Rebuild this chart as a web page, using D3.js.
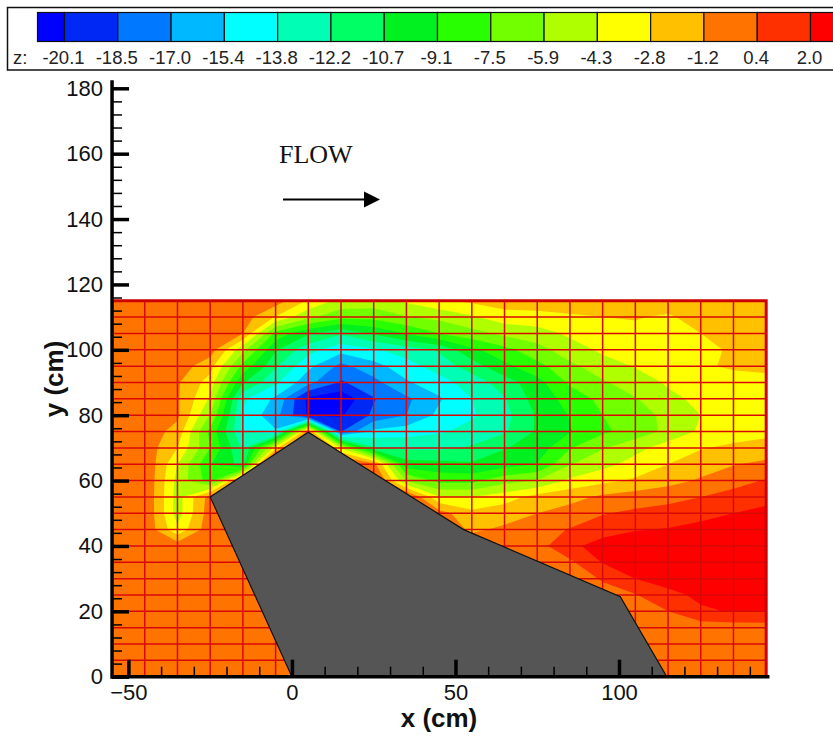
<!DOCTYPE html>
<html>
<head>
<meta charset="utf-8">
<script src="https://cdn.jsdelivr.net/npm/d3@7"></script>
<style>
  html, body { margin: 0; padding: 0; background: #fff; overflow: hidden; }
  svg { display: block; }
</style>
</head>
<body>
<div id="chart"></div>
<script>
// DATA ***********************************************
var xNodes = [-55, -45, -35, -25, -15, -5, 5, 15, 25, 35, 45, 55, 65, 75, 85, 95, 105, 115, 125, 135, 145];
var yNodes = [115, 110, 105, 100, 95, 90, 85, 80, 75, 70, 65, 60, 55, 50, 45, 40, 35, 30, 25, 20, 15, 10, 5, 0];

// z at each mesh node, one array per mesh row (nodes under the solid are not visible)
var z115 = [-.2, -.2, -.2, -.2, -.2, -.4, -3, -4.8, -5, -4, -3, -2.5, -2, -2, -2, -2, -2, -2, -2, -2, -2];
var z110 = [-.2, -.2, -.2, -.2, -.4, -2.9, -5.5, -7, -7, -6, -5.5, -4.5, -3.5, -3.3, -3, -2.8, -2.7, -3, -2.2, -2, -2];
var z105 = [-.2, -.2, -.2, -.2, -1.2, -8, -10.5, -12, -10.5, -9, -7.5, -6.5, -5.5, -5, -4, -3.5, -3.2, -3.2, -2.8, -2.2, -2];
var z100 = [-.2, -.2, -.2, -.4, -5.4, -10.5, -13.2, -14.8, -14, -13, -12, -9.5, -8, -6.5, -5, -4, -3.6, -3.5, -3.2, -2.6, -2.2];
var z95 = [-.2, -.2, -.3, -2.2, -8, -12, -15, -17.5, -16, -14.5, -13, -11.5, -9.5, -8, -6.3, -5, -4.2, -3.7, -3, -2.6, -2.5];
var z90 = [-.2, -.2, -1, -3.5, -10.5, -13.5, -16.5, -18.7, -17.5, -15.6, -14.5, -13, -11.5, -9.7, -7.2, -6.1, -5.1, -4.1, -3.7, -3.4, -3.2];
var z85 = [-.2, -.2, -1, -4.5, -13.5, -15.7, -20.5, -21.3, -18.6, -17.3, -15.6, -13.8, -12.3, -10, -8.5, -7, -6, -4.7, -3.9, -3.5, -3.3];
var z80 = [-.2, -.2, -.9, -6, -14, -16.5, -20.3, -20.3, -18.2, -17, -15, -14, -12.7, -10.5, -9, -7.5, -6.4, -5.6, -4.3, -3.6, -3.4];
var z75 = [-.2, -.2, -1.8, -8, -13.8, -15.2, -.5, -18.6, -15, -14.5, -14, -13.3, -12.4, -10.5, -9.2, -7.8, -6.8, -5.5, -4, -3.5, -3.2];
var z70 = [-.2, -.2, -2.8, -7.5, -12.5, -3.5, 5, -4.5, -12, -12.5, -12.5, -12, -10.8, -10, -7.6, -6, -4.8, -3.5, -2.9, -2.5, -2.2];
var z65 = [-.2, .3, -4.3, -9, -11.3, 7, 5, 1.5, -.5, -10, -10.2, -10.5, -9.8, -9, -6, -4.8, -3.7, -2.8, -2, -1.3, -.8];
var z60 = [-.2, .3, -4.8, -8.3, .5, 5, 5, 5, 1.3, -6, -8, -8, -6.5, -5.8, -4, -3.2, -2.6, -1.8, -1, -.1, .5];
var z55 = [-.2, .3, -5, -.5, 2, 3, 5, 5, 3, 1, -4.2, -4.3, -3.5, -2.2, -1.7, -.9, -.4, -.1, .4, .9, 1.4];
var z50 = [-.2, .3, -5, -.3, 0, 0, 3, 3, 3, 1, -.5, -2.4, -1.9, -1.2, -.6, .3, .7, 1, 1.4, 2, 2.5];
var z45 = [-.2, .1, -4, -.1, 0, 0, 0, 0, 0, 0, 0, -1.5, -.9, -.3, .5, 1.3, 1.9, 2.1, 2.6, 2.8, 2.8];
var z40 = [-.2, -.2, -.2, -.2, 0, 0, 0, 0, 0, 0, 0, 0, -.5, -.2, 1.6, 2.7, 3, 3, 3, 3, 3];
var z35 = [-.2, -.2, -.2, -.2, 0, 0, 0, 0, 0, 0, 0, 0, 0, -.2, .1, 2.1, 2.7, 3, 3, 3, 3];
var z30 = [-.2, -.2, -.2, -.2, 0, 0, 0, 0, 0, 0, 0, 0, 0, 0, -.2, .5, 2, 2.6, 2.9, 3, 3];
var z25 = [-.2, -.2, -.2, -.2, 0, 0, 0, 0, 0, 0, 0, 0, 0, 0, 0, 0, .3, 1.6, 2.3, 2.6, 2.7];
var z20 = [-.2, -.2, -.2, -.2, 0, 0, 0, 0, 0, 0, 0, 0, 0, 0, 0, 0, -.2, .4, 1.8, 2.1, 2.05];
var z15 = [-.2, -.2, -.2, -.2, 0, 0, 0, 0, 0, 0, 0, 0, 0, 0, 0, 0, 0, -.2, -.5, -.4, -.3];
var z10 = [-.2, -.2, -.2, -.2, 0, 0, 0, 0, 0, 0, 0, 0, 0, 0, 0, 0, 0, -.2, -.2, -.2, -.2];
var z5 = [-.2, -.2, -.2, -.2, 0, 0, 0, 0, 0, 0, 0, 0, 0, 0, 0, 0, 0, -.2, -.2, -.2, -.2];
var z0 = [-.2, -.2, -.2, -.2, 0, 0, 0, 0, 0, 0, 0, 0, 0, 0, 0, 0, 0, -.2, -.2, -.2, -.2];
var zRows = [z115, z110, z105, z100, z95, z90, z85, z80, z75, z70, z65, z60, z55, z50, z45, z40, z35, z30, z25, z20, z15, z10, z5, z0];

var levels = [-20.1, -18.5, -17.0, -15.4, -13.8, -12.2, -10.7, -9.1, -7.5, -5.9, -4.3, -2.8, -1.2, 0.4, 2.0];
var levelLabels = ["-20.1", "-18.5", "-17.0", "-15.4", "-13.8", "-12.2", "-10.7", "-9.1", "-7.5", "-5.9", "-4.3", "-2.8", "-1.2", "0.4", "2.0"];
var bandColors = ["#0000ff", "#0028f5", "#0078ff", "#00b8ff", "#00ffff", "#00ffb4", "#00ff64", "#00f020", "#28ff00", "#72ff00", "#b0ff00", "#ffff00", "#ffc000", "#ff7400", "#ff3000", "#ff0000"];

// outline of the solid body, (x, y) in cm
var solidX = [-25, 5, 52.5, 100.4, 114.6, 0];
var solidY = [55, 74.8, 45, 24.5, 0, 0];

var xMajor = [-50, 0, 50, 100];
var xMinor = [-40, -30, -20, -10, 10, 20, 30, 40, 60, 70, 80, 90, 110, 120, 130, 140];
var yMajor = [0, 20, 40, 60, 80, 100, 120, 140, 160, 180];
var yMinor = [4, 8, 12, 16, 24, 28, 32, 36, 44, 48, 52, 56, 64, 68, 72, 76, 84, 88, 92, 96, 104, 108, 112, 116, 124, 128, 132, 136, 144, 148, 152, 156, 164, 168, 172, 176];

// SCALES ***********************************************
var width = 833;
var height = 736;
var x = d3.scaleLinear().domain([-50, 100]).range([128.4, 619]);
var y = d3.scaleLinear().domain([0, 180]).range([676.7, 88.3]);
var legendX = d3.scaleLinear().domain([0, levels.length - 1]).range([64.5, 810.5]);
var sansFont = "'Liberation Sans', Arial, sans-serif";

var svg = d3.select("#chart").append("svg")
    .attr("width", width)
    .attr("height", height);

// CONTOUR FIELD ***********************************************
svg.append("clipPath").attr("id", "plot-clip")
    .append("rect")
    .attr("x", x(-55))
    .attr("y", y(115))
    .attr("width", x(145) - x(-55))
    .attr("height", y(0) - y(115));

// contour coordinates are in grid cells, node i sits at i + 0.5
var gridToScreen = d3.geoTransform({
    point: function (cx, cy) {
        this.stream.point(x(-55 + (cx - 0.5) * 10), y(115 - (cy - 0.5) * 5));
    }
});
var contourPath = d3.geoPath(gridToScreen);

var contours = d3.contours()
    .size([xNodes.length, yNodes.length])
    .thresholds(levels)(zRows.flat());

var field = svg.append("g").attr("clip-path", "url(#plot-clip)");
field.append("rect")
    .attr("x", x(-55))
    .attr("y", y(115))
    .attr("width", x(145) - x(-55))
    .attr("height", y(0) - y(115))
    .attr("fill", bandColors[0]);
field.selectAll("path")
    .data(contours)
    .enter()
    .append("path")
    .attr("d", contourPath)
    .attr("fill", function (d, i) { return bandColors[i + 1]; });

// MESH ***********************************************
var mesh = svg.append("g").attr("stroke", "#d80808").attr("stroke-width", 1.5);
mesh.selectAll(".vline")
    .data(xNodes)
    .enter()
    .append("line")
    .attr("x1", function (d) { return x(d); })
    .attr("x2", function (d) { return x(d); })
    .attr("y1", y(115))
    .attr("y2", y(0));
mesh.selectAll(".hline")
    .data(yNodes)
    .enter()
    .append("line")
    .attr("x1", x(-55))
    .attr("x2", x(145))
    .attr("y1", function (d) { return y(d); })
    .attr("y2", function (d) { return y(d); });

// heavier top and right edge of the mesh
svg.append("path")
    .attr("d", "M" + x(-55) + "," + y(115) + "H" + x(145) + "V" + y(0))
    .attr("fill", "none")
    .attr("stroke", "#cc0000")
    .attr("stroke-width", 3);

// SOLID BODY ***********************************************
svg.append("path")
    .datum(d3.range(solidX.length))
    .attr("d", d3.line()
        .x(function (i) { return x(solidX[i]); })
        .y(function (i) { return y(solidY[i]); })
        .curve(d3.curveLinearClosed))
    .attr("fill", "#555555")
    .attr("stroke", "#111")
    .attr("stroke-width", 1.2);

// AXES ***********************************************
function styleAxis(g, strokeWidth) {
    g.select(".domain").remove();
    g.selectAll("line").attr("stroke", "#000").attr("stroke-width", strokeWidth);
    g.selectAll("text")
        .attr("font-family", sansFont)
        .attr("font-size", 22)
        .attr("fill", "#111");
}

// minor ticks point into the plot
svg.append("g")
    .attr("transform", "translate(" + x(-55) + ",0)")
    .call(d3.axisRight(y).tickValues(yMinor).tickSize(10).tickFormat(""))
    .call(styleAxis, 1.5);
svg.append("g")
    .attr("transform", "translate(0," + y(0) + ")")
    .call(d3.axisTop(x).tickValues(xMinor).tickSize(10).tickFormat(""))
    .call(styleAxis, 1.5);

var yAxisMajor = svg.append("g")
    .attr("transform", "translate(" + x(-55) + ",0)")
    .call(d3.axisLeft(y).tickValues(yMajor).tickSize(0).tickPadding(9))
    .call(styleAxis, 3.5);
yAxisMajor.selectAll("line").attr("x2", 17);

var xAxisMajor = svg.append("g")
    .attr("transform", "translate(0," + y(0) + ")")
    .call(d3.axisBottom(x).tickValues(xMajor).tickSize(0).tickPadding(8))
    .call(styleAxis, 3.5);
xAxisMajor.selectAll("line").attr("y2", -17);

svg.append("line")
    .attr("x1", x(-55)).attr("x2", x(-55))
    .attr("y1", y(0) + 2).attr("y2", y(182.5))
    .attr("stroke", "#000").attr("stroke-width", 3.5);
svg.append("line")
    .attr("x1", x(-55)).attr("x2", x(146))
    .attr("y1", y(0)).attr("y2", y(0))
    .attr("stroke", "#000").attr("stroke-width", 3.5);

svg.append("text")
    .text("x (cm)")
    .attr("x", 439)
    .attr("y", 727)
    .attr("text-anchor", "middle")
    .attr("font-family", sansFont)
    .attr("font-weight", "bold")
    .attr("font-size", 26)
    .attr("fill", "#111");
svg.append("text")
    .text("y (cm)")
    .attr("transform", "translate(63,379) rotate(-90)")
    .attr("text-anchor", "middle")
    .attr("font-family", sansFont)
    .attr("font-weight", "bold")
    .attr("font-size", 26)
    .attr("fill", "#111");

// FLOW NOTE ***********************************************
svg.append("text")
    .text("FLOW")
    .attr("x", 279)
    .attr("y", 162.5)
    .attr("font-family", "'Liberation Serif', 'Times New Roman', serif")
    .attr("font-size", 26)
    .attr("fill", "#111");
svg.append("line")
    .attr("x1", 283).attr("x2", 365)
    .attr("y1", 199.5).attr("y2", 199.5)
    .attr("stroke", "#000").attr("stroke-width", 2);
svg.append("path")
    .attr("d", "M364,191.5L380,199.5L364,207.5Z")
    .attr("fill", "#000");

// COLOUR BAR ***********************************************
var legend = svg.append("g");
legend.append("rect")
    .attr("x", 7.5)
    .attr("y", 7.5)
    .attr("width", 840)
    .attr("height", 62.5)
    .attr("fill", "#fff")
    .attr("stroke", "#111")
    .attr("stroke-width", 1.5);

var boxEdges = [37.5].concat(levels.map(function (d, i) { return legendX(i); }), [863.8]);
legend.selectAll(".box")
    .data(bandColors)
    .enter()
    .append("rect")
    .attr("x", function (d, i) { return boxEdges[i]; })
    .attr("y", 12.5)
    .attr("width", function (d, i) { return boxEdges[i + 1] - boxEdges[i]; })
    .attr("height", 29)
    .attr("fill", function (d) { return d; })
    .attr("stroke", "#111")
    .attr("stroke-width", 1.2);

legend.append("text")
    .text("z:")
    .attr("x", 13)
    .attr("y", 64)
    .attr("font-family", sansFont)
    .attr("font-size", 18.5)
    .attr("fill", "#222");
legend.selectAll(".label")
    .data(levelLabels)
    .enter()
    .append("text")
    .text(function (d) { return d; })
    .attr("x", function (d, i) { return legendX(i) - 1; })
    .attr("y", 64)
    .attr("text-anchor", "middle")
    .attr("font-family", sansFont)
    .attr("font-size", 18.5)
    .attr("fill", "#222");
</script>
</body>
</html>
